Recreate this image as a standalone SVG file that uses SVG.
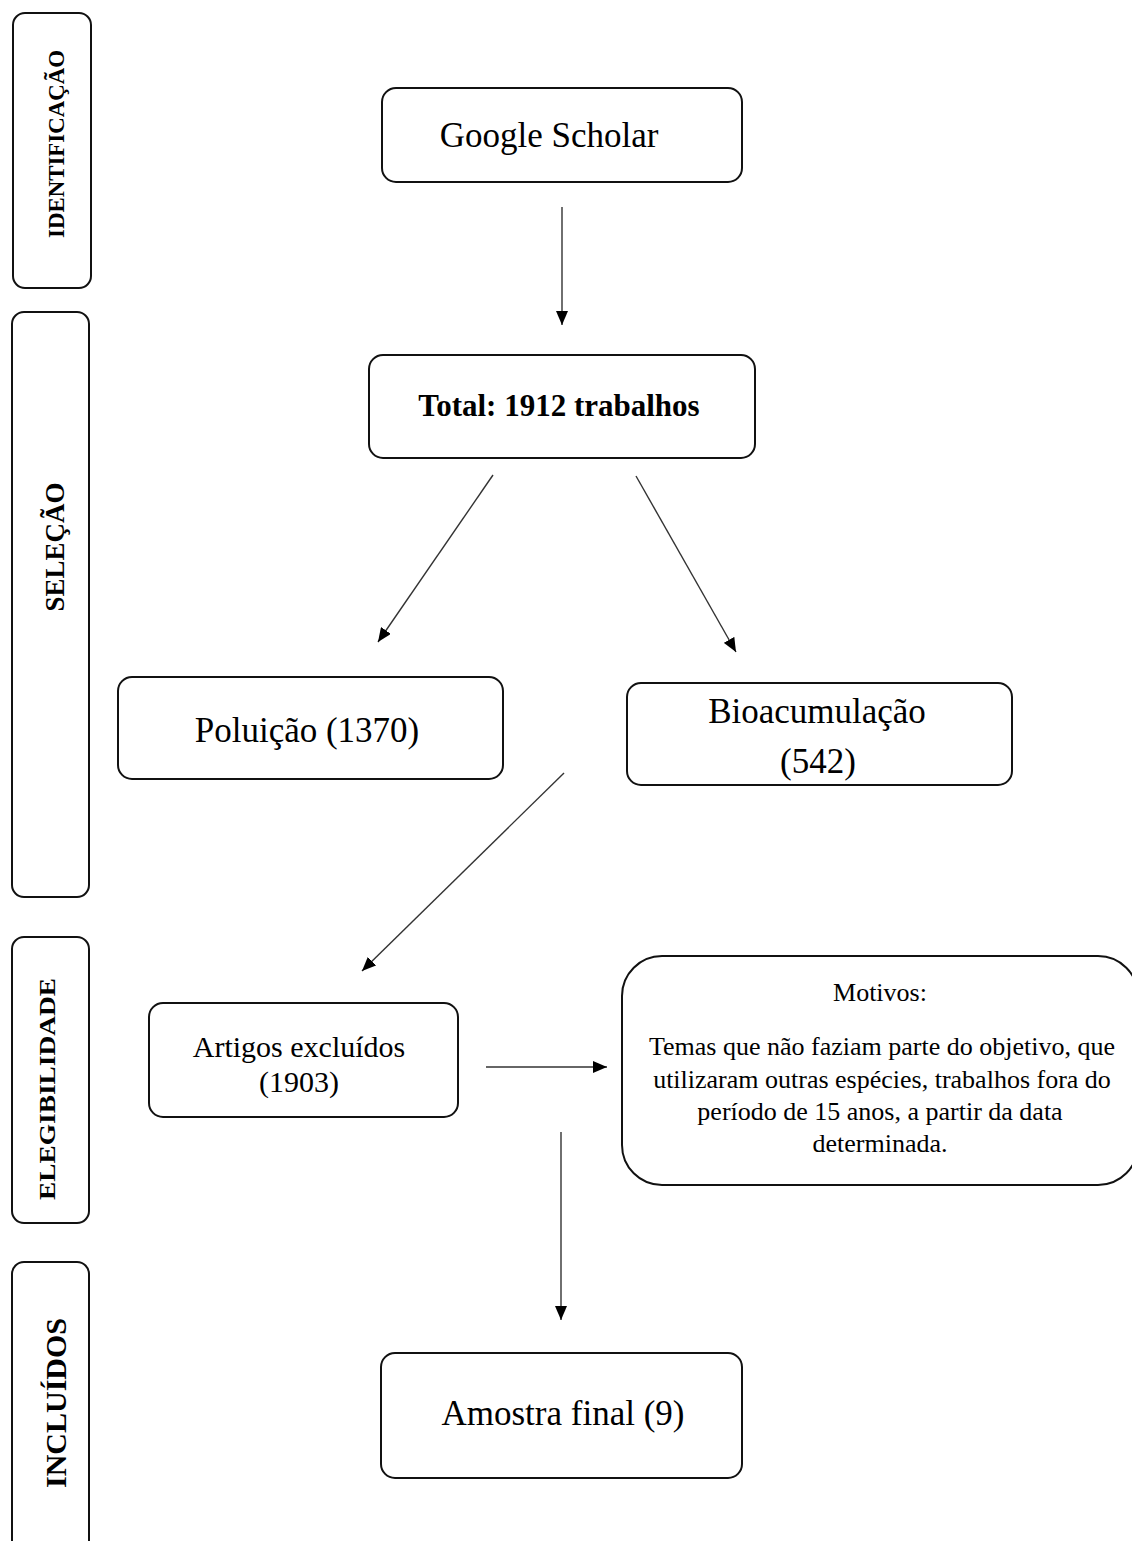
<svg xmlns="http://www.w3.org/2000/svg" width="1132" height="1541" viewBox="0 0 1132 1541">
<style>
.box{fill:#fff;stroke:#111;stroke-width:2}
.side{fill:#fff;stroke:#111;stroke-width:2}
.t{font-family:"Liberation Serif","Times New Roman",serif;fill:#000;text-anchor:middle}
.b{font-weight:bold}
.conn{stroke:#333;stroke-width:1.4;fill:none;marker-end:url(#ah)}
</style>
<defs>
<marker id="ah" markerUnits="userSpaceOnUse" markerWidth="14" markerHeight="12" refX="14" refY="6" orient="auto">
<path d="M0,0 L14,6 L0,12 z" fill="#000"/>
</marker>
</defs>
<rect width="1132" height="1541" fill="#fff"/>

<g id="stage-identificacao">
<rect class="side" x="13" y="13" width="78" height="275" rx="12"/>
<text class="t b" font-size="24" textLength="188" lengthAdjust="spacingAndGlyphs" transform="translate(64,144) rotate(-90)">IDENTIFICAÇÃO</text>
</g>
<g id="stage-selecao">
<rect class="side" x="12" y="312" width="77" height="585" rx="12"/>
<text class="t b" font-size="27" transform="translate(64,547) rotate(-90)">SELEÇÃO</text>
</g>
<g id="stage-elegibilidade">
<rect class="side" x="12" y="937" width="77" height="286" rx="12"/>
<text class="t b" font-size="24" textLength="222" lengthAdjust="spacingAndGlyphs" transform="translate(55,1089) rotate(-90)">ELEGIBILIDADE</text>
</g>
<g id="stage-incluidos">
<rect class="side" x="12" y="1262" width="77" height="300" rx="12"/>
<text class="t b" font-size="30" transform="translate(66,1403) rotate(-90)">INCLUÍDOS</text>
</g>

<g id="node-google">
<rect class="box" x="382" y="88" width="360" height="94" rx="14"/>
<text class="t" font-size="35" x="549" y="147">Google Scholar</text>
</g>
<g id="node-total">
<rect class="box" x="369" y="355" width="386" height="103" rx="14"/>
<text class="t b" font-size="31" x="559" y="416">Total: 1912 trabalhos</text>
</g>
<g id="node-poluicao">
<rect class="box" x="118" y="677" width="385" height="102" rx="14"/>
<text class="t" font-size="35" x="307" y="742">Poluição (1370)</text>
</g>
<g id="node-bioacumulacao">
<rect class="box" x="627" y="683" width="385" height="102" rx="14"/>
<text class="t" font-size="35" x="817" y="723">Bioacumulação</text>
<text class="t" font-size="35" x="818" y="773">(542)</text>
</g>
<g id="node-artigos">
<rect class="box" x="149" y="1003" width="309" height="114" rx="14"/>
<text class="t" font-size="30" x="299" y="1057">Artigos excluídos</text>
<text class="t" font-size="30" x="299" y="1092">(1903)</text>
</g>
<g id="node-motivos">
<rect class="box" x="622" y="956" width="516" height="229" rx="40"/>
<text class="t" font-size="26" x="880" y="1001">Motivos:</text>
<text class="t" font-size="26" x="882" y="1055">Temas que não faziam parte do objetivo, que</text>
<text class="t" font-size="26" x="882" y="1088">utilizaram outras espécies, trabalhos fora do</text>
<text class="t" font-size="26" x="880" y="1120">período de 15 anos, a partir da data</text>
<text class="t" font-size="26" x="880" y="1152">determinada.</text>
</g>
<g id="node-amostra">
<rect class="box" x="381" y="1353" width="361" height="125" rx="14"/>
<text class="t" font-size="35" x="563" y="1425">Amostra final (9)</text>
</g>

<g id="connectors">
<line class="conn" x1="562" y1="207" x2="562" y2="325"/>
<line class="conn" x1="493" y1="475" x2="378" y2="642"/>
<line class="conn" x1="636" y1="476" x2="736" y2="652"/>
<line class="conn" x1="564" y1="773" x2="362" y2="971"/>
<line class="conn" x1="486" y1="1067" x2="607" y2="1067"/>
<line class="conn" x1="561" y1="1132" x2="561" y2="1320"/>
</g>
</svg>
